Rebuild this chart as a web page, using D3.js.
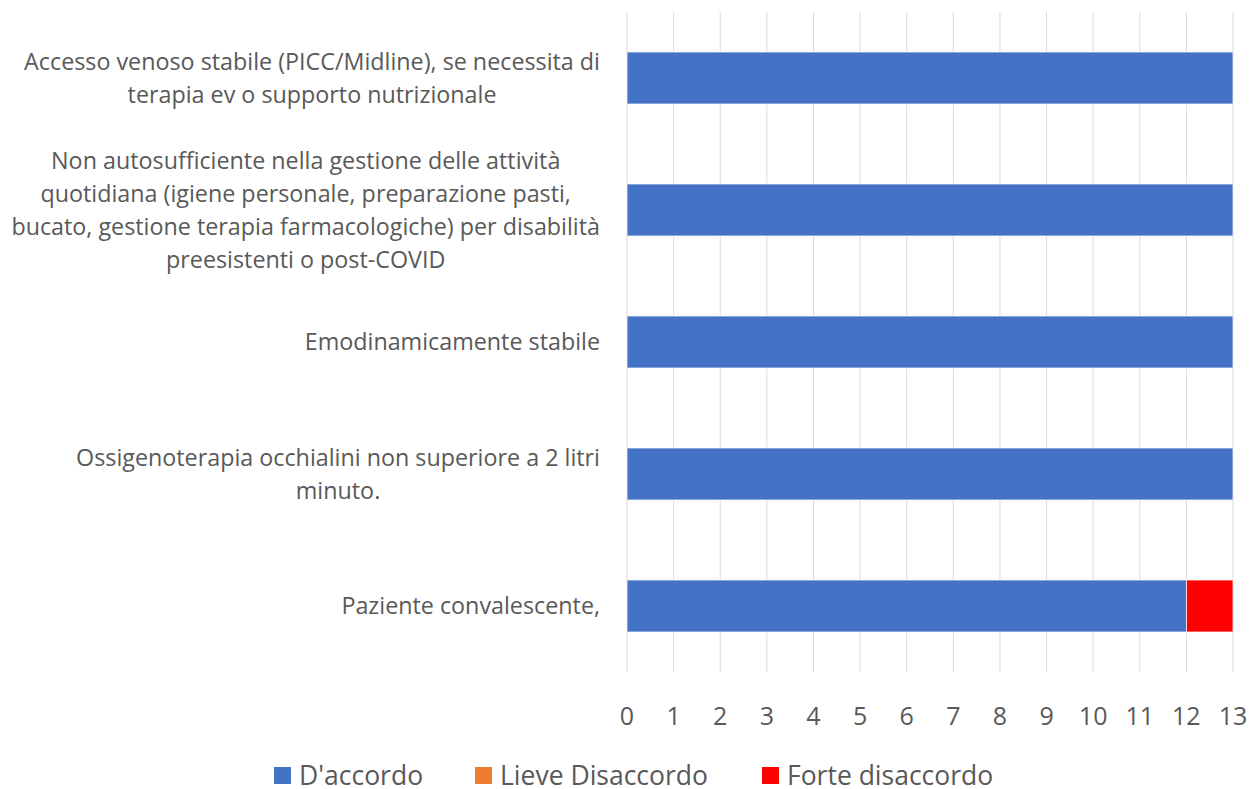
<!DOCTYPE html>
<html>
	<head>
		<meta charset="utf-8">
		<title>Grafico a barre orizzontali</title>
		<style>
			body { margin: 0; background: #fff; }
			#myGraph text { font-family: "Open Sans", sans-serif; fill: #595959; }
			#myGraph .grid line { stroke: #d9d9d9; stroke-width: 1px; }
		</style>
		<script src="https://cdn.jsdelivr.net/npm/d3@7"></script>
	</head>
	<body>
		<svg id="myGraph" width="1253" height="789"></svg>
		<script>
		// categorie (dall'alto verso il basso), una riga per elemento
		var categories = [
			["Accesso venoso stabile (PICC/Midline), se necessita di", "terapia ev o supporto nutrizionale"],
			["Non autosufficiente nella gestione delle attività", "quotidiana (igiene personale, preparazione pasti,", "bucato, gestione terapia farmacologiche) per disabilità", "preesistenti o post-COVID"],
			["Emodinamicamente stabile"],
			["Ossigenoterapia occhialini non superiore a 2 litri", "minuto."],
			["Paziente convalescente,"]
		];
		var seriesNames = ["D'accordo", "Lieve Disaccordo", "Forte disaccordo"];
		var accordo = [13, 13, 13, 13, 12];
		var lieve = [0, 0, 0, 0, 0];
		var forte = [0, 0, 0, 0, 1];
		var xTicks = [0, 1, 2, 3, 4, 5, 6, 7, 8, 9, 10, 11, 12, 13];
		var colors = ["#4472c4", "#ed7d31", "#ff0000"];

		var svg = d3.select("#myGraph");
		var plotL = 627, plotR = 1233, plotT = 12, plotB = 672;

		var x = d3.scaleLinear().domain([0, 13]).range([plotL, plotR]);
		var y = d3.scaleBand().domain(d3.range(categories.length)).range([plotT, plotB]).paddingInner(0.606).paddingOuter(0.303);

		// griglia verticale
		svg.append("g").attr("class", "grid")
			.selectAll("line").data(xTicks).enter().append("line")
			.attr("x1", function(d){ return x(d); })
			.attr("x2", function(d){ return x(d); })
			.attr("y1", plotT)
			.attr("y2", plotB);

		// dati impilati
		var rows = categories.map(function(c, i){
			return { i: i, a: accordo[i], l: lieve[i], f: forte[i] };
		});
		var stack = d3.stack().keys(["a", "l", "f"])(rows);

		svg.append("g").selectAll("g").data(stack).enter().append("g")
			.attr("fill", function(d, i){ return colors[i]; })
			.selectAll("rect").data(function(d){ return d.filter(function(p){ return p[1] > p[0]; }); })
			.enter().append("rect")
			.attr("x", function(d){ return x(d[0]); })
			.attr("y", function(d){ return y(d.data.i); })
			.attr("width", function(d){ return x(d[1]) - x(d[0]); })
			.attr("height", y.bandwidth())
			.attr("stroke", "#fff")
			.attr("stroke-width", 0.75);

		// etichette asse x
		svg.append("g").selectAll("text").data(xTicks).enter().append("text")
			.attr("x", function(d){ return x(d); })
			.attr("y", 725)
			.attr("text-anchor", "middle")
			.style("font-size", "25px")
			.text(function(d){ return d; });

		// etichette categorie: blocco allineato a destra, righe centrate
		var lineH = 33;
		categories.forEach(function(lines, i){
			var g = svg.append("g");
			var cy = y(i) + y.bandwidth() / 2;
			var t = g.selectAll("text").data(lines).enter().append("text")
				.style("font-size", "23.3px")
				.attr("text-anchor", "middle")
				.attr("y", function(d, j){ return cy + (j - (lines.length - 1) / 2) * lineH + 8; })
				.text(function(d){ return d; });
			var maxW = 0;
			t.each(function(){ maxW = Math.max(maxW, this.getComputedTextLength()); });
			t.attr("x", 600 - maxW / 2);
		});

		// legenda
		var legendX = [274, 475, 762];
		var items = svg.append("g").selectAll("g").data(seriesNames).enter().append("g")
			.attr("transform", function(d, i){ return "translate(" + legendX[i] + ",0)"; });
		items.append("rect").attr("x", 0).attr("y", 767).attr("width", 17).attr("height", 17)
			.attr("fill", function(d, i){ return colors[i]; });
		items.append("text").attr("x", 25).attr("y", 785)
			.style("font-size", "26.5px")
			.text(function(d){ return d; });
		</script>
	</body>
</html>
